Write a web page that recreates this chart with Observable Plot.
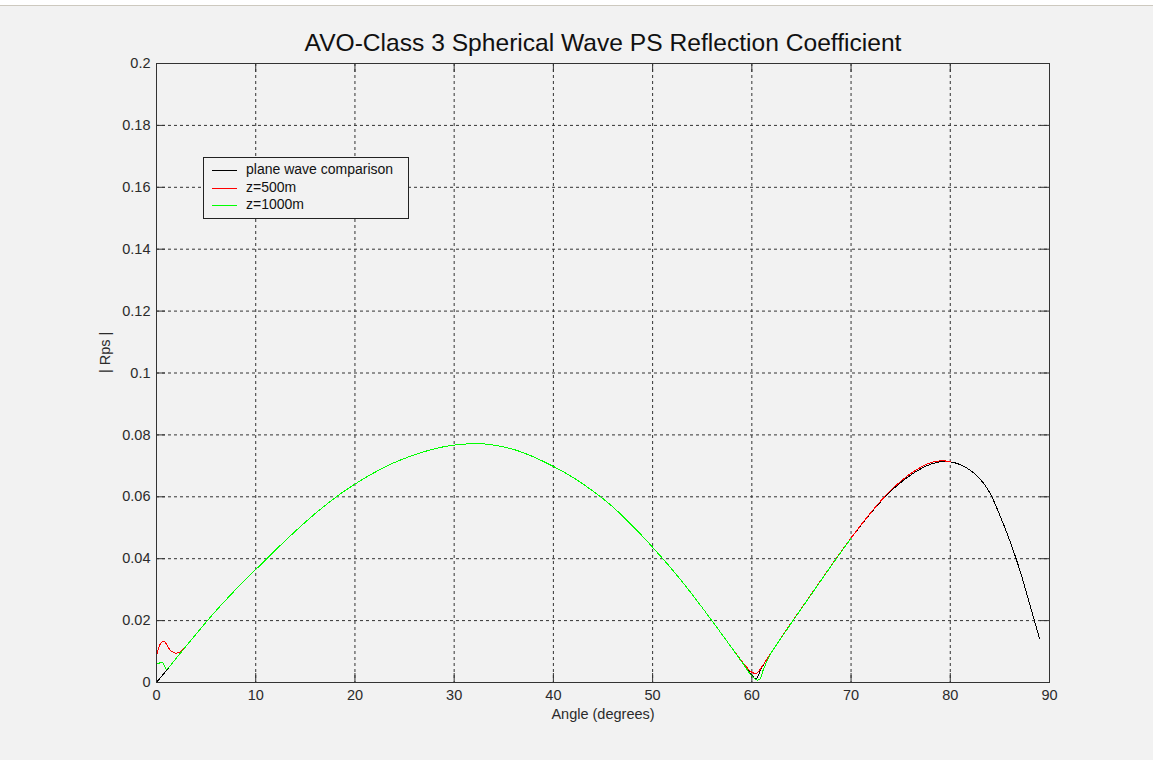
<!DOCTYPE html>
<html><head><meta charset="utf-8">
<script src="https://cdn.jsdelivr.net/npm/d3@7"></script>
<script src="https://cdn.jsdelivr.net/npm/@observablehq/plot@0.6"></script>
<style>
html,body{margin:0;padding:0;background:#f2f2f2;}
#wrap{position:relative;width:1153px;height:760px;overflow:hidden;font-family:"Liberation Sans",Arial,sans-serif;}
#topband{position:absolute;left:0;top:0;width:1153px;height:5px;background:#ffffff;border-bottom:1px solid #cdc9bf;}
#legend{position:absolute;left:203px;top:157px;width:204px;height:60px;border:1px solid #222;background:#f2f2f2;font-size:14px;color:#111;}
#legend .row{position:absolute;left:0;width:200px;height:16px;}
#legend .sw{position:absolute;left:8px;top:8px;width:25px;height:1px;}
#legend .lb{position:absolute;left:42px;top:-1px;line-height:16px;white-space:nowrap;}
</style></head>
<body>
<div id="wrap"><div id="chart"></div><div id="topband"></div><div id="legend"></div></div>
<script>
// ---- data ----
const title = "AVO-Class 3 Spherical Wave PS Reflection Coefficient";
const xLabel = "Angle (degrees)";
const yLabel = "| Rps |";
const xTicks = [0,10,20,30,40,50,60,70,80,90];
const xTickLabels = ["0","10","20","30","40","50","60","70","80","90"];
const yTicks = [0,0.02,0.04,0.06,0.08,0.1,0.12,0.14,0.16,0.18,0.2];
const yTickLabels = ["0","0.02","0.04","0.06","0.08","0.1","0.12","0.14","0.16","0.18","0.2"];
const seriesNames = ["plane wave comparison","z=500m","z=1000m"];
const seriesColors = ["#000000","#ff0000","#00ff00"];

const planeAngles = [0,1,2,3,4,5,6,7,8,9,10,11,12,13,14,15,16,17,18,19,20,21,22,23,24,25,26,27,28,29,30,31,32,33,34,35,36,37,38,39,40,41,42,43,44,45,46,47,48,49,50,51,52,53,54,55,56,57,58,59,60,60.4,61,62,63,64,65,66,67,68,69,70,71,72,73,74,75,76,77,78,79,80,81,82,83,84,85,86,87,88,89];
const planeValues = [0,0.0039,0.0079,0.0118,0.0157,0.0195,0.0232,0.0267,0.0301,0.0333,0.0365,0.0396,0.0428,0.0459,0.0489,0.0518,0.0546,0.0572,0.0597,0.0620,0.0641,0.0661,0.0679,0.0696,0.0711,0.0724,0.0736,0.0746,0.0755,0.0762,0.0767,0.0770,0.0772,0.0771,0.0767,0.0761,0.0753,0.0742,0.0729,0.0714,0.0698,0.0681,0.0662,0.0641,0.0618,0.0594,0.0567,0.0537,0.0505,0.0472,0.0437,0.0401,0.0364,0.0325,0.0284,0.0242,0.0199,0.0155,0.0111,0.0067,0.0024,0.0012,0.0048,0.0098,0.0146,0.0193,0.0239,0.0285,0.0331,0.0377,0.0422,0.0466,0.0508,0.0548,0.0585,0.0618,0.0646,0.0670,0.0690,0.0705,0.0713,0.0713,0.0704,0.0686,0.0658,0.0612,0.0540,0.0458,0.0364,0.0254,0.0141];

const z500Angles = [0,0.25,0.5,0.8,1.1,1.4,1.9,2.25,2.6,3,4,5,6,7,8,9,10,11,12,13,14,15,16,17,18,19,20,21,22,23,24,25,26,27,28,29,30,31,32,33,34,35,36,37,38,39,40,41,42,43,44,45,46,47,48,49,50,51,52,53,54,55,56,57,58,59,59.6,60,60.5,61,62,63,64,65,66,67,68,69,70,71,72,73,74,75,76,77,78,79,80];
const z500Values = [0.0087,0.0115,0.0130,0.0132,0.0118,0.0104,0.0095,0.0097,0.0104,0.0118,0.0157,0.0195,0.0232,0.0267,0.0301,0.0333,0.0365,0.0396,0.0428,0.0459,0.0489,0.0518,0.0546,0.0572,0.0597,0.0620,0.0641,0.0661,0.0679,0.0696,0.0711,0.0724,0.0736,0.0746,0.0755,0.0762,0.0767,0.0770,0.0772,0.0771,0.0767,0.0761,0.0753,0.0742,0.0729,0.0714,0.0698,0.0681,0.0662,0.0641,0.0618,0.0594,0.0567,0.0537,0.0505,0.0472,0.0437,0.0401,0.0364,0.0325,0.0284,0.0242,0.0199,0.0155,0.0111,0.0068,0.0045,0.0033,0.0030,0.0050,0.0099,0.0147,0.0194,0.0240,0.0286,0.0332,0.0378,0.0423,0.0467,0.0509,0.0549,0.0587,0.0621,0.0650,0.0675,0.0695,0.0710,0.0716,0.0714];

const z1000Angles = [0,0.3,0.6,1.0,1.3,2,3,4,5,6,7,8,9,10,11,12,13,14,15,16,17,18,19,20,21,22,23,24,25,26,27,28,29,30,31,32,33,34,35,36,37,38,39,40,41,42,43,44,45,46,47,48,49,50,51,52,53,54,55,56,57,58,59,60,60.5,60.8,61.2,62,63,64,65,66,67,68,69,70];
const z1000Values = [0.0060,0.0063,0.0065,0.0043,0.0051,0.0079,0.0118,0.0157,0.0195,0.0232,0.0267,0.0301,0.0333,0.0365,0.0396,0.0428,0.0459,0.0489,0.0518,0.0546,0.0572,0.0597,0.0620,0.0641,0.0661,0.0679,0.0696,0.0711,0.0724,0.0736,0.0746,0.0755,0.0762,0.0767,0.0770,0.0772,0.0771,0.0767,0.0761,0.0753,0.0742,0.0729,0.0714,0.0698,0.0681,0.0662,0.0641,0.0618,0.0594,0.0567,0.0537,0.0505,0.0472,0.0437,0.0401,0.0364,0.0325,0.0284,0.0242,0.0199,0.0155,0.0111,0.0066,0.0021,0.0008,0.0011,0.0045,0.0098,0.0146,0.0193,0.0239,0.0285,0.0331,0.0377,0.0422,0.0466];

// ---- build ----
const toRows = (a, v) => a.map((x, i) => ({angle: x, value: v[i]}));
const series = [toRows(planeAngles, planeValues), toRows(z500Angles, z500Values), toRows(z1000Angles, z1000Values)];

const W = 1153, H = 760, mL = 156, mR = 104, mT = 63, mB = 78;
const innerW = W - mL - mR, innerH = H - mT - mB;
const ink = "#2b2b2b";
const font = "'Liberation Sans', Arial, sans-serif";
const tickLen = 9;

const chart = Plot.plot({
  width: W, height: H,
  marginLeft: mL, marginRight: mR, marginTop: mT, marginBottom: mB,
  style: {background: "#f2f2f2", fontFamily: font, color: ink, overflow: "visible"},
  x: {domain: [0, 90]},
  y: {domain: [0, 0.2]},
  marks: [
    Plot.gridX(xTicks.slice(1, -1), {stroke: "#333", strokeOpacity: 1, strokeWidth: 1, strokeDasharray: "3,3"}),
    Plot.gridY(yTicks.slice(1, -1), {stroke: "#333", strokeOpacity: 1, strokeWidth: 1, strokeDasharray: "3,3"}),
    Plot.tickX(xTicks, {x: d => d, stroke: "#333", insetTop: innerH - tickLen}),
    Plot.tickX(xTicks, {x: d => d, stroke: "#333", insetBottom: innerH - tickLen}),
    Plot.tickY(yTicks, {y: d => d, stroke: "#333", insetRight: innerW - tickLen}),
    Plot.tickY(yTicks, {y: d => d, stroke: "#333", insetLeft: innerW - tickLen}),
    Plot.axisX(xTicks, {tickSize: 0, tickPadding: 7, fontSize: 14.5, label: null, fill: ink,
      tickFormat: d => xTickLabels[xTicks.indexOf(d)]}),
    Plot.axisY(yTicks, {tickSize: 0, tickPadding: 6, fontSize: 14.5, label: null, fill: ink,
      tickFormat: d => yTickLabels[yTicks.indexOf(d)]}),
    ...series.map((s, i) => Plot.line(s, {x: "angle", y: "value", stroke: seriesColors[i], strokeWidth: 1,
      curve: "catmull-rom", shapeRendering: "crispEdges"})),
    Plot.frame({stroke: "#333", strokeWidth: 1}),
    Plot.text([title], {frameAnchor: "top", lineAnchor: "bottom", dy: -13, fontSize: 24.6, fill: "#111"}),
    Plot.text([xLabel], {frameAnchor: "bottom", lineAnchor: "top", dy: 26, fontSize: 14.5, fill: ink}),
    Plot.text([yLabel], {frameAnchor: "left", dx: -51, rotate: -90, fontSize: 14.5, fill: ink})
  ]
});
document.getElementById("chart").appendChild(chart);

// legend overlay
const leg = document.getElementById("legend");
const rowTops = [4, 22, 39];
seriesNames.forEach((name, i) => {
  const r = document.createElement("div");
  r.className = "row";
  r.style.top = rowTops[i] + "px";
  r.innerHTML = `<div class="sw" style="background:${seriesColors[i]}"></div><div class="lb">${name}</div>`;
  leg.appendChild(r);
});
</script>
</body></html>
